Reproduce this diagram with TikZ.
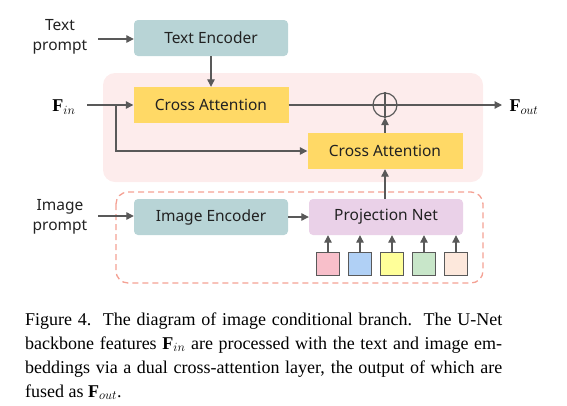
\RequirePackage{fix-cm}
\documentclass[tikz,border=0pt]{standalone}
\usepackage{fontspec}
\setmainfont{Liberation Serif}
\newfontfamily\diagfont{Noto Sans}
\usetikzlibrary{arrows.meta}
\definecolor{arrgray}{HTML}{595959}
\definecolor{encfill}{HTML}{B8D4D6}
\definecolor{cafill}{HTML}{FFD966}
\definecolor{projfill}{HTML}{EAD1E8}
\definecolor{regionfill}{HTML}{FDECEC}
\definecolor{dashcol}{HTML}{F4A194}
\definecolor{txt}{HTML}{222222}
\definecolor{sqA}{HTML}{F8BFCA}
\definecolor{sqB}{HTML}{B0D0F5}
\definecolor{sqC}{HTML}{FFFF99}
\definecolor{sqD}{HTML}{C8E6C9}
\definecolor{sqE}{HTML}{FDE8DC}
\tikzset{
  lbl/.style={font=\diagfont\fontsize{15.5}{20}\selectfont, text=txt, inner sep=0pt},
  plain/.style={lbl, align=center},
  encbox/.style={lbl, fill=encfill, rounded corners=4pt, minimum width=154pt, minimum height=36pt},
  cabox/.style={lbl, fill=cafill, minimum width=155pt, minimum height=36pt},
  projbox/.style={lbl, fill=projfill, rounded corners=4pt, minimum width=154pt, minimum height=36pt},
  tok/.style={draw=arrgray, line width=1.2pt, minimum width=23pt, minimum height=23pt, inner sep=0pt},
  conn/.style={draw=arrgray, line width=1.2pt},
  arr/.style={conn, -{Triangle[length=7.5pt,width=7.5pt]}},
  mathlbl/.style={inner sep=0pt, font=\fontsize{18}{20}\selectfont},
  capline/.style={inner sep=0pt, anchor=base west, font=\fontsize{18}{24}\selectfont}
}
\newcommand{\capbox}[1]{\hbox to 477pt{\spaceskip=0.25em plus 0.4em minus 0.12em\xspaceskip=0.45em plus 0.4em minus 0.12em #1}}
\begin{document}
\begin{tikzpicture}[x=1pt,y=-1pt]
\useasboundingbox (0,0) rectangle (567,405);
% background region
\fill[regionfill, rounded corners=12pt] (103,73) rectangle (483,182);
\draw[dashcol, line width=1.3pt, dash pattern=on 6pt off 4pt, rounded corners=12pt] (116,192) rectangle (483,283);

% nodes
\node[plain] (tp) at (60,37) {Text\\prompt};
\node[encbox] (te) at (211,38) {Text Encoder};
\node[cabox] (ca1) at (211,105) {Cross Attention};
\node[cabox] (ca2) at (385,151) {Cross Attention};
\node[mathlbl] (fin) at (64,107) {$\mathbf{F}_{in}$};
\node[mathlbl] (fout) at (524,107) {$\mathbf{F}_{out}$};
\node[draw=arrgray, line width=1.2pt, circle, minimum size=24pt, inner sep=0pt] (op) at (385,105) {};
\draw[conn] (op.north) -- (op.south) (op.west) -- (op.east);
\node[plain] (ip) at (60,217) {Image\\prompt};
\node[encbox] (ie) at (211,217) {Image Encoder};
\node[projbox] (pn) at (386,217) {Projection Net};
\foreach \i/\x/\c in {1/328/sqA,2/360/sqB,3/392/sqC,4/424/sqD,5/456/sqE}{
  \node[tok, fill=\c] (s\i) at (\x,264) {};
  \draw[arr] (s\i.north) -- (s\i.north |- pn.south);
}
\coordinate (tpe) at (98,39);
\coordinate (ipe) at (98,216);
\coordinate (fine) at (87,105);
\coordinate (br) at (116,105);
\coordinate (foute) at (502,105);

% connectors
\draw[arr] (tpe) -- (tpe -| te.west);
\draw[arr] (te.south) -- (ca1.north);
\draw[arr] (fine) -- (ca1.west);
\draw[arr] (br) |- (ca2.west);
\draw[conn] (ca1.east) -- (op.west);
\draw[arr] (op.east) -- (foute);
\draw[arr] (ca2.north) -- (op.south);
\draw[arr] (ipe) -- (ipe -| ie.west);
\draw[arr] (ie.east) -- (ie.east -| pn.west);
\draw[arr] (pn.north -| ca2.south) -- (ca2.south);

% caption
\node[capline] (c1) at (25,325) {\capbox{Figure 4.\ \ The diagram of image conditional branch.\ \ The U-Net}};
\node[capline] (c2) at (25,349) {\capbox{backbone features $\mathbf{F}_{in}$ are processed with the text and image em-}};
\node[capline] (c3) at (25,373) {\capbox{beddings via a dual cross-attention layer, the output of which are}};
\node[capline] (c4) at (25,397) {fused as $\mathbf{F}_{out}$.};
\end{tikzpicture}
\end{document}
